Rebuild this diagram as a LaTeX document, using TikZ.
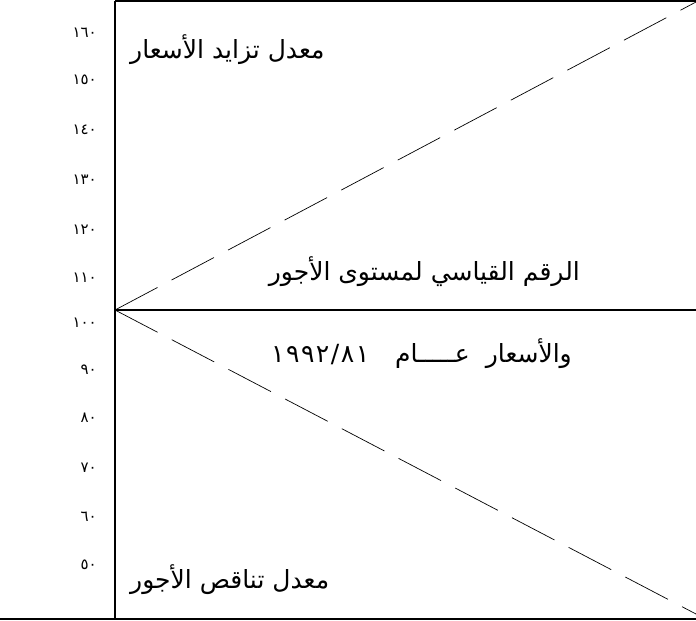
\documentclass[tikz,border=0pt]{standalone}
\usepackage{fontspec}
\newfontfamily\arabicfont[Script=Arabic]{DejaVu Sans}
\TeXXeTstate=1
\begin{document}
\begin{tikzpicture}[x=1pt,y=-1pt,
  axis/.style={line width=1.6pt},
  guide/.style={line width=0.7pt, dash pattern=on 48pt off 16pt},
  tick/.style={font=\arabicfont\fontsize{15}{15}\selectfont, anchor=east, inner sep=0pt},
  lbl/.style={font=\arabicfont\fontsize{25}{28}\selectfont, inner sep=0pt}]
\useasboundingbox (0,0) rectangle (696,621);
\coordinate (tl) at (115,1);
\coordinate (tr) at (696,1);
\coordinate (vb) at (115,619);
\coordinate (bl) at (0,619);
\coordinate (br) at (696,619);
\coordinate (o) at (115,310);
\coordinate (mr) at (696,310);
\coordinate (du) at (696,2);
\coordinate (dd) at (696,614);
\draw[axis] (tl) -- (tr);
\draw[axis] (tl) -- (vb);
\draw[axis] (bl) -- (br);
\draw[axis] (o) -- (mr);
\draw[guide] (o) -- (du);
\draw[guide] (o) -- (dd);
\node[tick] (t160) at (97,33) {١٦٠};
\node[tick] (t150) at (97,80) {١٥٠};
\node[tick] (t140) at (97,130) {١٤٠};
\node[tick] (t130) at (97,180) {١٣٠};
\node[tick] (t120) at (97,230) {١٢٠};
\node[tick] (t110) at (97,278) {١١٠};
\node[tick] (t100) at (97,323) {١٠٠};
\node[tick] (t90) at (97,370) {٩٠};
\node[tick] (t80) at (97,418) {٨٠};
\node[tick] (t70) at (97,468) {٧٠};
\node[tick] (t60) at (97,517) {٦٠};
\node[tick] (t50) at (97,565) {٥٠};
\node[lbl, anchor=west] (up) at (130,50) {\beginR معدل تزايد الأسعار\endR};
\node[lbl, anchor=east] (idxa) at (580,272) {\beginR الرقم القياسي لمستوى الأجور\endR};
\node[lbl, anchor=east] (idxb) at (572,354) {\beginR والأسعار\hspace{16pt}عـــــام\hspace{26pt}\beginL ١\hspace{1.5pt}٩\hspace{1.5pt}٩\hspace{1.5pt}٢\hspace{1.5pt}/\hspace{1.5pt}٨\hspace{1.5pt}١\endL\endR};
\node[lbl, anchor=west] (down) at (130,580) {\beginR معدل تناقص الأجور\endR};
\end{tikzpicture}
\end{document}
